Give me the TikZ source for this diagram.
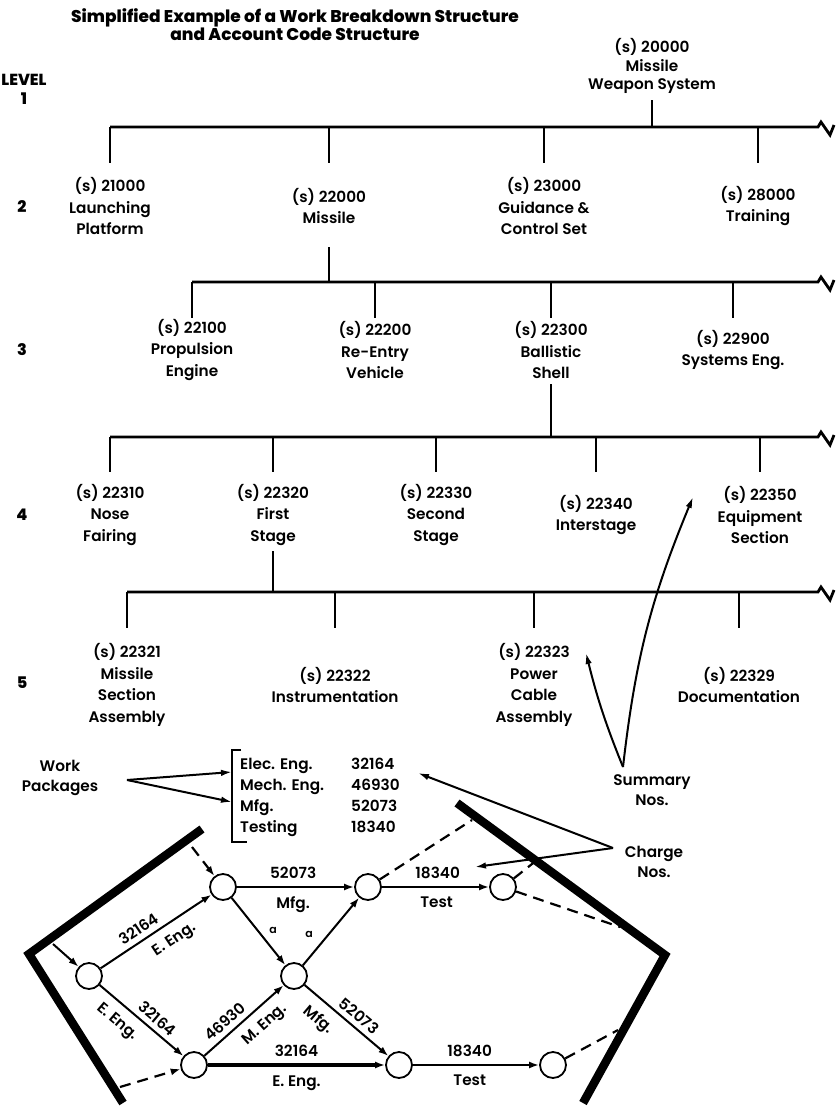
\documentclass[tikz,border=0pt]{standalone}
\usepackage{fontspec}
\setmainfont{Poppins}[UprightFont={* SemiBold}, BoldFont={* ExtraBold}]
\usetikzlibrary{arrows.meta}
\begin{document}
\begin{tikzpicture}[x=1pt,y=-1pt,
  every node/.style={inner sep=1pt},
  txt/.style={align=center, font=\fontsize{15.3}{21.5}\selectfont},
  lev/.style={font=\fontsize{16}{19}\selectfont\bfseries},
  bar/.style={line width=2.8pt, line join=miter},
  ev/.style={circle, draw, line width=1.8pt, minimum size=26pt, inner sep=0pt},
  act/.style={line width=2pt, -{Latex[length=10pt,width=7pt]}},
  dum/.style={line width=2.2pt, dash pattern=on 11pt off 7pt},
  wall/.style={line width=8.5pt, line join=miter},
  note/.style={line width=2pt, -{Latex[length=11pt,width=6.5pt]}},
  lab/.style={font=\fontsize{15.3}{17}\selectfont, inner sep=2pt},
  up/.style={lab, above=5pt},
  dn/.style={lab, below=7pt},
  sup/.style={lab, sloped, above=3pt},
  sdn/.style={lab, sloped, below=7pt},
  tiny/.style={font=\fontsize{11}{12}\selectfont},
]
\useasboundingbox (0,0) rectangle (836,1106);

% ---------- title and level labels
\node[align=center, font=\fontsize{17}{18}\selectfont\bfseries] (title) at (295,25)
  {Simplified Example of a Work Breakdown Structure\\and Account Code Structure};
\node[lev, align=center] (lvl1) at (24,89) {LEVEL\\1};
\node[lev] (lvl2) at (22,207) {2};
\node[lev] (lvl3) at (22,350) {3};
\node[lev] (lvl4) at (22,515) {4};
\node[lev] (lvl5) at (22,683) {5};

% ---------- level 1
\node[txt, font=\fontsize{15.3}{18.5}\selectfont] (root) at (652,66) {(s) 20000\\Missile\\Weapon System};
\coordinate (r1) at (652,100); \coordinate (r2) at (652,127);
\draw[bar] (r1) -- (r2);
\coordinate (b1l) at (110,127); \coordinate (b1r) at (818,127);
\draw[bar] (b1l) -- (b1r) -- ++(3,-5) -- ++(9,13) -- ++(4,-10);

% ---------- level 2
\node[txt] (n21000) at (110,206) {(s) 21000\\Launching\\Platform};
\node[txt] (n22000) at (329,206) {(s) 22000\\Missile};
\node[txt] (n23000) at (544,206) {(s) 23000\\Guidance \&\\Control Set};
\node[txt] (n28000) at (758,206) {(s) 28000\\Training};
\foreach \x in {110,329,544,758} \draw[bar] (\x,127) -- (\x,163);
\coordinate (m1) at (329,247); \coordinate (m2) at (329,282);
\draw[bar] (m1) -- (m2);
\coordinate (b2l) at (192,282); \coordinate (b2r) at (818,282);
\draw[bar] (b2l) -- (b2r) -- ++(3,-5) -- ++(9,13) -- ++(4,-10);
\foreach \x in {192,375,551,733} \draw[bar] (\x,282) -- (\x,318);

% ---------- level 3
\node[txt] (n22100) at (192,350) {(s) 22100\\Propulsion\\Engine};
\node[txt] (n22200) at (375,350) {(s) 22200\\Re-Entry\\Vehicle};
\node[txt] (n22300) at (551,350) {(s) 22300\\Ballistic\\Shell};
\node[txt] (n22900) at (733,350) {(s) 22900\\Systems Eng.};
\coordinate (s1) at (551,384); \coordinate (s2) at (551,437);
\draw[bar] (s1) -- (s2);
\coordinate (b3l) at (110,437); \coordinate (b3r) at (818,437);
\draw[bar] (b3l) -- (b3r) -- ++(3,-5) -- ++(9,13) -- ++(4,-10);
\foreach \x in {110,273,436,596,760} \draw[bar] (\x,437) -- (\x,472);

% ---------- level 4
\node[txt] (n22310) at (110,515) {(s) 22310\\Nose\\Fairing};
\node[txt] (n22320) at (273,515) {(s) 22320\\First\\Stage};
\node[txt] (n22330) at (436,515) {(s) 22330\\Second\\Stage};
\node[txt] (n22340) at (596,515) {(s) 22340\\Interstage};
\node[txt] (n22350) at (760,515) {(s) 22350\\Equipment\\Section};
\coordinate (f1) at (273,551); \coordinate (f2) at (273,592);
\draw[bar] (f1) -- (f2);
\coordinate (b4l) at (127,592); \coordinate (b4r) at (818,592);
\draw[bar] (b4l) -- (b4r) -- ++(3,-5) -- ++(9,13) -- ++(4,-10);
\foreach \x in {127,335,534,739} \draw[bar] (\x,592) -- (\x,628);

% ---------- level 5
\node[txt] (n22321) at (127,685) {(s) 22321\\Missile\\Section\\Assembly};
\node[txt] (n22322) at (335,685) {(s) 22322\\Instrumentation};
\node[txt] (n22323) at (534,685) {(s) 22323\\Power\\Cable\\Assembly};
\node[txt] (n22329) at (739,685) {(s) 22329\\Documentation};

% ---------- summary numbers
\node[txt, font=\fontsize{15.3}{20}\selectfont] (summ) at (652,790) {Summary\\Nos.};
\coordinate (smS) at (623,767);
\coordinate (smT1) at (586,653);
\coordinate (smT2) at (693,497);
\draw[note] (smS) to[bend left=4] (smT1);
\draw[note] (smS) to[bend left=8] (smT2);

% ---------- work packages
\node[txt, font=\fontsize{15.3}{20}\selectfont] (wpk) at (60,778) {Work\\Packages};
\coordinate (wpS) at (127,780);
\coordinate (wpT1) at (232,772);
\coordinate (wpT2) at (232,802);
\draw[note] (wpS) -- (wpT1);
\draw[note] (wpS) -- (wpT2);
\coordinate (brA) at (241,750); \coordinate (brB) at (232,750);
\coordinate (brC) at (232,842); \coordinate (brD) at (247,842);
\draw[line width=2.2pt] (brA) -- (brB) -- (brC) -- (brD);
\node[anchor=west, font=\fontsize{15.3}{21}\selectfont, inner sep=0pt] (list) at (240,797)
  {\begin{tabular}{@{}p{111pt}@{}l@{}}
    Elec. Eng. & 32164\\
    Mech. Eng. & 46930\\
    Mfg. & 52073\\
    Testing & 18340
  \end{tabular}};

% ---------- charge numbers
\node[txt, font=\fontsize{15.3}{20}\selectfont] (chg) at (654,862) {Charge\\Nos.};
\coordinate (chS) at (613,848);
\coordinate (chT1) at (418,773);
\coordinate (chT2) at (475,867);
\draw[note] (chS) -- (chT1);
\draw[note] (chS) -- (chT2);

% ---------- walls
\coordinate (wl1) at (202,829); \coordinate (wl2) at (29,954); \coordinate (wl3) at (123,1103);
\coordinate (wr1) at (457,803); \coordinate (wr2) at (665,955); \coordinate (wr3) at (583,1103);
\draw[wall] (wl1) -- (wl2) -- (wl3);
\draw[wall] (wr1) -- (wr2) -- (wr3);

% ---------- network events
\node[ev, fill=white] (A) at (89,976) {};
\node[ev, fill=white] (B) at (223,887) {};
\node[ev, fill=white] (C) at (368,887) {};
\node[ev, fill=white] (D) at (503,887) {};
\node[ev, fill=white] (E) at (294,976) {};
\node[ev, fill=white] (F) at (194,1065) {};
\node[ev, fill=white] (G) at (399,1065) {};
\node[ev, fill=white] (H) at (553,1065) {};

% ---------- activities
\draw[act] (A) -- node[sup, pos=0.40] {32164} node[sdn, pos=0.58] {E. Eng.} (B);
\draw[act] (A) -- node[sup, pos=0.60] {32164} node[sdn, pos=0.34] {E. Eng.} (F);
\draw[act] (B) -- node[up, pos=0.48] {52073} node[dn, pos=0.48] {Mfg.} (C);
\draw[act] (B) -- (E);
\draw[act] (E) -- (C);
\draw[act] (C) -- node[up, pos=0.52] {18340} node[dn, pos=0.51] {Test} (D);
\draw[act] (F) -- node[sup, pos=0.36] {46930} node[sdn, pos=0.62] {M. Eng.} (E);
\draw[act] (E) -- node[sup, pos=0.56] {52073} node[sdn, pos=0.30] {Mfg.} (G);
\draw[act, line width=3.2pt] (F) -- node[up, pos=0.5] {32164} node[dn, pos=0.5] {E. Eng.} (G);
\draw[act] (G) -- node[up, pos=0.45] {18340} node[dn, pos=0.45] {Test} (H);
\node[tiny] (a1) at (273,930) {a};
\node[tiny] (a2) at (309,934) {a};

% ---------- dummies / links to walls
\coordinate (dB) at (192,847);
\coordinate (dA) at (53,944);
\coordinate (dF) at (120,1087);
\coordinate (dC) at (472,820);
\coordinate (dD1) at (537,860);
\coordinate (dD2) at (620,927);
\coordinate (dH) at (618,1030);
\draw[dum, -{Latex[length=10pt,width=7pt]}] (dB) -- (B);
\draw[act] (dA) -- (A);
\draw[dum, -{Latex[length=10pt,width=7pt]}] (dF) -- (F);
\draw[dum] (C) -- (dC);
\draw[dum] (D) -- (dD1);
\draw[dum] (D) -- (dD2);
\draw[dum] (H) -- (dH);
\end{tikzpicture}
\end{document}
